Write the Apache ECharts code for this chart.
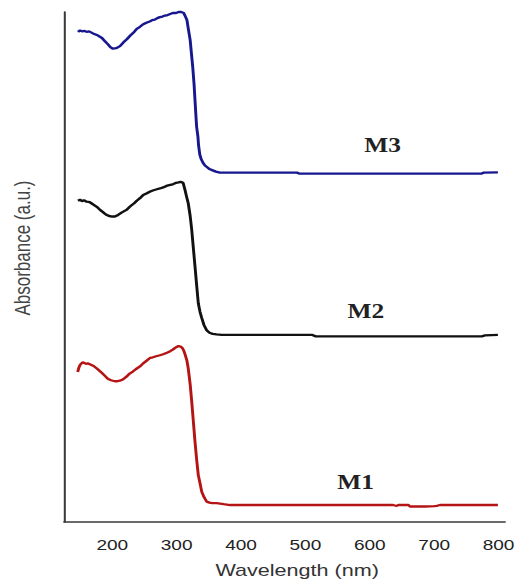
<!DOCTYPE html>
<html>
<head>
<meta charset="utf-8">
<script src="https://cdn.jsdelivr.net/npm/echarts@6/dist/echarts.min.js"></script>
<style>
html,body{margin:0;padding:0;background:#fff;overflow:hidden}
#wrap{width:521px;height:588px;position:relative;overflow:hidden;background:#fff}
#chart{position:absolute;left:0;top:0;width:410px;height:588px;transform:scaleX(1.270732);transform-origin:0 0}
</style>
</head>
<body>
<div id="wrap"><div id="chart"></div></div>
<script>
// Tick labels (nm)
var xTicks = [200, 300, 400, 500, 600, 700, 800];

// M3 (blue)
var m3Wavelength = [146.7,150,153,157,160,164,170,176,184,189,193,197,201,206,212,217,223,228,234,238,243,248,253,259,262,266,270,274,278,282,286,290,294,299,303,307,311,314,316,318,321,323,325,327,328.5,330,331,333,334,336,338,341,344,347,351,355,361,367,398,487,491,647,773,777,799];
var m3Absorbance = [96.1,96.4,96.2,96.3,96.1,96.2,95.8,95.5,94.9,94.2,93.7,93.1,92.8,92.9,93.3,94.0,94.7,95.4,96.1,96.7,97.1,97.6,97.9,98.2,98.4,98.5,98.8,99.0,99.1,99.3,99.4,99.6,99.8,99.8,100,100,99.8,99.0,98.4,96.8,94.5,91.8,89.2,85.9,82.7,79.5,77.5,75.6,73.9,72,71.2,70.4,69.9,69.6,69.2,69,68.7,68.5,68.5,68.5,68.3,68.3,68.3,68.5,68.55];

// M2 (black)
var m2Wavelength = [146.7,150,153,156,160,165,170,176,181,186,190,195,200,204,209,215,222,228,234,238,243,248,253,259,263,268,274,279,284,290,294,299,303,306,310,313,315,318,321,323.4,326,328.5,331,333.6,336.3,339,342.5,346.6,351,356,362,370,510,516,774,779,799];
var m2Absorbance = [63.0,63.2,62.9,63.1,62.8,62.7,62.3,61.8,61.2,60.7,60.3,60.0,59.9,59.9,60.2,60.7,61.2,61.9,62.5,63.0,63.5,64.1,64.4,64.8,65.0,65.2,65.4,65.6,65.9,66.1,66.2,66.5,66.6,66.7,66.5,65.1,64.0,62.5,60,57.3,53.6,50.1,46.5,42.9,41.2,40,38.6,37.6,37.1,36.9,36.8,36.7,36.7,36.4,36.4,36.6,36.7];

// M1 (red)
var m1Wavelength = [146.3,148,150,153,155,159,162,166,171,177,184,189,193,198,204,208,212,217,222,227,232,237,243,248,253,259,263,268,274,279,285,290,294,297,300,303,306,309,311,313,316,318,321,323.4,326,328.5,331,333.6,336.3,339,342.5,346.6,351,355,362,373,383,636,641.8,644,660,662.5,686,700,704,709,799];
var m1Absorbance = [29.4,30.2,30.8,31.2,31.3,31.0,31.1,30.9,30.6,30.0,29.2,28.6,28.1,27.8,27.6,27.6,27.7,28.0,28.5,29.1,29.5,30.0,30.5,31.1,31.6,32.2,32.3,32.5,32.7,32.9,33.2,33.5,33.8,34.1,34.3,34.5,34.4,34.1,33.6,32.9,31.6,30.1,27,23.6,19.6,15.7,12.3,9.2,7.6,5.9,4.9,4.0,3.8,3.7,3.7,3.5,3.33,3.33,3.14,3.33,3.33,3.04,3.04,3.1,3.18,3.33,3.33];

var seriesNames = ['M3', 'M2', 'M1'];

function pairs(xs, ys) {
  var out = [];
  for (var i = 0; i < xs.length; i++) out.push([xs[i], ys[i]]);
  return out;
}

var chart = echarts.init(document.getElementById('chart'), null, {renderer: 'svg'});

function makeSeries(name, xs, ys, color, labelCoord) {
  return {
    name: name,
    type: 'line',
    data: pairs(xs, ys),
    showSymbol: false,
    clip: false,
    silent: true,
    lineStyle: {color: color, width: 2.3},
    markPoint: {
      silent: true,
      symbol: 'circle',
      symbolSize: 0,
      data: [{coord: labelCoord, value: name}],
      label: {
        show: true,
        position: 'inside',
        formatter: name,
        color: '#222',
        fontFamily: 'Liberation Serif',
        fontWeight: 'bold',
        fontSize: 20
      }
    }
  };
}

chart.setOption({
  animation: false,
  backgroundColor: '#fff',
  grid: {left: 50.36, right: 12.6, top: 12, bottom: 66},
  xAxis: {
    type: 'value',
    min: 125,
    max: 810,
    axisLine: {show: true, lineStyle: {color: '#3a3a3a', width: 1.6}},
    axisTick: {show: false},
    splitLine: {show: false},
    axisLabel: {
      customValues: xTicks,
      margin: 15,
      fontSize: 15,
      fontFamily: 'Liberation Sans',
      color: '#222'
    },
    name: 'Wavelength (nm)',
    nameLocation: 'middle',
    nameGap: 39,
    nameTextStyle: {fontSize: 17, fontFamily: 'Liberation Sans', color: '#333', padding: [0, 0, 0, 20]}
  },
  yAxis: {
    type: 'value',
    min: 0,
    max: 100,
    axisLine: {show: true, lineStyle: {color: '#3a3a3a', width: 1.6}},
    axisTick: {show: false},
    axisLabel: {show: false},
    splitLine: {show: false},
    name: 'Absorbance (a.u.)',
    nameLocation: 'middle',
    nameRotate: 90,
    nameGap: 24.5,
    nameTextStyle: {fontSize: 17, fontFamily: 'Liberation Sans', color: '#444', padding: [0, 0, 0, 38]}
  },
  series: [
    makeSeries(seriesNames[0], m3Wavelength, m3Absorbance, '#17178f', [620, 73.9]),
    makeSeries(seriesNames[1], m2Wavelength, m2Absorbance, '#111111', [594, 41.2]),
    makeSeries(seriesNames[2], m1Wavelength, m1Absorbance, '#b41414', [578, 7.8])
  ]
});
</script>
</body>
</html>
